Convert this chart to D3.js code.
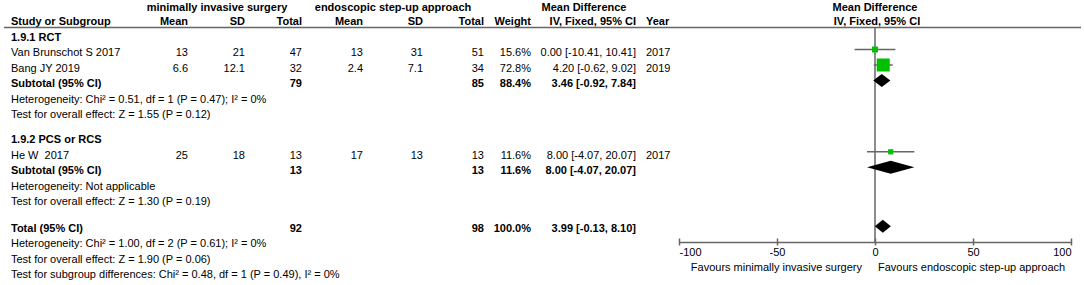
<!DOCTYPE html>
<html><head><meta charset="utf-8">
<script src="https://cdn.jsdelivr.net/npm/d3@7"></script>
<style>
body{margin:0;background:#fff;}
svg text{font-family:"Liberation Sans",Arial,sans-serif;font-size:11px;fill:#000;white-space:pre;}
</style></head>
<body><svg id="c" width="1084" height="285"></svg>
<script>
// ---- data ----
const studyNames = ["Van Brunschot S 2017","Bang JY 2019","He W  2017"];
const studyGroup = [0,0,1];
const mean1 = ["13","6.6","25"];
const sd1 = ["21","12.1","18"];
const n1 = [47,32,13];
const mean2 = ["13","2.4","17"];
const sd2 = ["31","7.1","13"];
const n2 = [51,34,13];
const weights = [15.6,72.8,11.6];
const md = [0.00,4.20,8.00];
const ciLow = [-10.41,-0.62,-4.07];
const ciHigh = [10.41,9.02,20.07];
const years = ["2017","2019","2017"];

const groupNames = ["1.9.1 RCT","1.9.2 PCS or RCS"];
const groupN1 = [79,13];
const groupN2 = [85,13];
const groupWeight = [88.4,11.6];
const groupMd = [3.46,8.00];
const groupLow = [-0.92,-4.07];
const groupHigh = [7.84,20.07];
const groupHet = ["Heterogeneity: Chi² = 0.51, df = 1 (P = 0.47); I² = 0%","Heterogeneity: Not applicable"];
const groupTest = ["Test for overall effect: Z = 1.55 (P = 0.12)","Test for overall effect: Z = 1.30 (P = 0.19)"];

const totalN1 = 92, totalN2 = 98, totalWeight = 100.0;
const totalMd = 3.99, totalLow = -0.13, totalHigh = 8.10;
const totalNotes = ["Heterogeneity: Chi² = 1.00, df = 2 (P = 0.61); I² = 0%","Test for overall effect: Z = 1.90 (P = 0.06)","Test for subgroup differences: Chi² = 0.48, df = 1 (P = 0.49), I² = 0%"];

const axisTicks = [-100,-50,0,50,100];
const axisDomain = [-100,100];
const favourLeft = "Favours minimally invasive surgery";
const favourRight = "Favours endoscopic step-up approach";

// ---- layout ----
const svg = d3.select("#c");
const x = d3.scaleLinear().domain(axisDomain).range([679,1071]);
const y = d3.scaleLinear().domain([0,1]).range([37,52.5]);
const col = {name:11,m1:188,sd1:245,n1:302,m2:363,sd2:423,n2:484,w:531,ci:636,yr:646};
const fmt2 = v => v.toFixed(2);
const ciText = (m,l,h)=>`${fmt2(m)} [${fmt2(l)}, ${fmt2(h)}]`;
const lineCol = "#666";
const green = "#00c000";

function txt(xp,yp,s,anchor,bold){
  svg.append("text").attr("x",xp).attr("y",yp).attr("dy","0.35em")
    .attr("text-anchor",anchor||"start").attr("font-weight",bold?"bold":null).text(s);
}

// headers
const h1 = 7.5, h2 = 21.5;
txt(217,h1,"minimally invasive surgery","middle",true);
txt(393,h1,"endoscopic step-up approach","middle",true);
txt(584,h1,"Mean Difference","middle",true);
txt(x(0),h1,"Mean Difference","middle",true);
txt(col.name,h2,"Study or Subgroup","start",true);
[["Mean",col.m1],["SD",col.sd1],["Total",col.n1],["Mean",col.m2],["SD",col.sd2],["Total",col.n2],["Weight",col.w],["IV, Fixed, 95% CI",col.ci]]
  .forEach(d=>txt(d[1],h2,d[0],"end",true));
txt(col.yr,h2,"Year","start",true);
txt(x(0)+2,h2,"IV, Fixed, 95% CI","middle",true);
svg.append("line").attr("x1",4).attr("x2",1081).attr("y1",27.5).attr("y2",27.5)
  .attr("stroke",lineCol).attr("stroke-width",1.5);

// rows
const markOff = -3;
const sqScale = d3.scaleSqrt().domain([0,72.8]).range([0,13]);
let r = 0;
const rowAfterGroup = [6.6, 12.3];
function diamond(m,l,h,cy){
  const hh = 6.5;
  svg.append("path").attr("d",`M${x(l)},${cy}L${x(m)},${cy-hh}L${x(h)},${cy}L${x(m)},${cy+hh}Z`).attr("fill","#000");
}
groupNames.forEach((g,gi)=>{
  txt(col.name,y(r),g,"start",true); r++;
  studyNames.forEach((s,i)=>{
    if(studyGroup[i]!==gi) return;
    const yy = y(r);
    txt(col.name,yy,s);
    txt(col.m1,yy,mean1[i],"end"); txt(col.sd1,yy,sd1[i],"end"); txt(col.n1,yy,n1[i],"end");
    txt(col.m2,yy,mean2[i],"end"); txt(col.sd2,yy,sd2[i],"end"); txt(col.n2,yy,n2[i],"end");
    txt(col.w,yy,weights[i].toFixed(1)+"%","end");
    txt(col.ci,yy,ciText(md[i],ciLow[i],ciHigh[i]),"end");
    txt(col.yr,yy,years[i]);
    const my = yy+markOff;
    svg.append("line").attr("x1",x(ciLow[i])).attr("x2",x(ciHigh[i])).attr("y1",my).attr("y2",my)
      .attr("stroke",lineCol).attr("stroke-width",1.5);
    const sz = Math.max(3.5,sqScale(weights[i]));
    svg.append("rect").attr("x",x(md[i])-sz/2).attr("y",my-sz/2).attr("width",sz).attr("height",sz).attr("fill",green);
    r++;
  });
  const yy = y(r);
  txt(col.name,yy,"Subtotal (95% CI)","start",true);
  txt(col.n1,yy,groupN1[gi],"end",true); txt(col.n2,yy,groupN2[gi],"end",true);
  txt(col.w,yy,groupWeight[gi].toFixed(1)+"%","end",true);
  txt(col.ci,yy,ciText(groupMd[gi],groupLow[gi],groupHigh[gi]),"end",true);
  diamond(groupMd[gi],groupLow[gi],groupHigh[gi],yy+markOff);
  r++;
  txt(col.name,y(r),groupHet[gi]); r++;
  txt(col.name,y(r),groupTest[gi]); r++;
  r = rowAfterGroup[gi];
});
// total
{
  const yy = y(r);
  txt(col.name,yy,"Total (95% CI)","start",true);
  txt(col.n1,yy,totalN1,"end",true); txt(col.n2,yy,totalN2,"end",true);
  txt(col.w,yy,totalWeight.toFixed(1)+"%","end",true);
  txt(col.ci,yy,ciText(totalMd,totalLow,totalHigh),"end",true);
  diamond(totalMd,totalLow,totalHigh,yy+markOff+1.5);
  r++;
  totalNotes.forEach(t=>{txt(col.name,y(r),t); r++;});
}

// zero line and axis
const axisY = 242;
svg.insert("line",":first-child").attr("x1",x(0)).attr("x2",x(0)).attr("y1",27.5).attr("y2",axisY)
  .attr("stroke",lineCol).attr("stroke-width",1.5);
const ax = svg.append("g").attr("transform",`translate(0,${axisY})`)
  .call(d3.axisBottom(x).tickValues(axisTicks).tickSize(0).tickPadding(6).tickFormat(d=>String(d)));
ax.select(".domain").attr("stroke",lineCol).attr("stroke-width",1.5);
ax.selectAll(".tick text").attr("font-size",null).attr("font-family",null).style("font-size","11px")
  .attr("text-anchor",(d,i)=> i===0?"start":(i===axisTicks.length-1?"end":"middle"));
ax.selectAll(".tick").append("line").attr("y1",-3.5).attr("y2",3.5).attr("stroke",lineCol).attr("stroke-width",1.5);
txt(x(0)-13,267,favourLeft,"end");
txt(x(0)+3,267,favourRight,"start");
</script></body></html>
